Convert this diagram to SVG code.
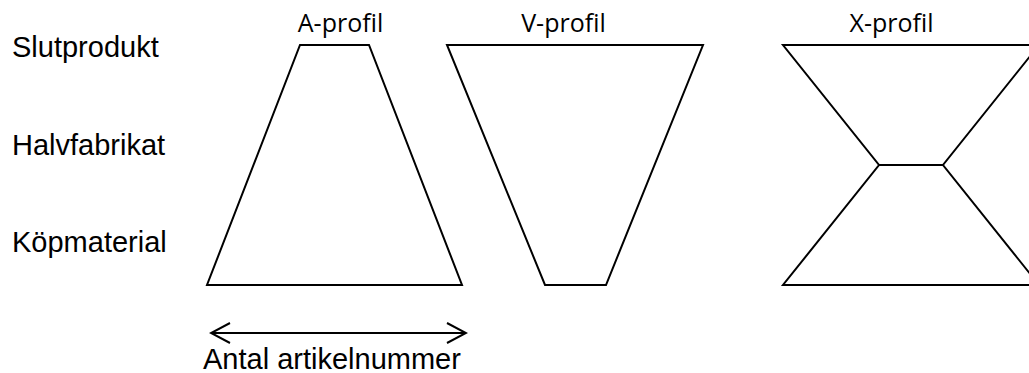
<svg xmlns="http://www.w3.org/2000/svg" width="1029" height="373" viewBox="0 0 1029 373">
  <style>
    .shape { fill: none; stroke: #000; stroke-width: 2; stroke-linejoin: miter; }
    .level { font-family: "Liberation Sans", Arial, sans-serif; font-size: 29px; fill: #000; }
    .title { font-family: "Open Sans", "Noto Sans", sans-serif; font-size: 25px; fill: #000; text-anchor: middle; }
    .axis { fill: none; stroke: #000; stroke-width: 2; }
  </style>
  <defs>
    <marker id="chevron" viewBox="0 0 22 22" refX="20" refY="11" markerWidth="22" markerHeight="22" markerUnits="userSpaceOnUse" orient="auto-start-reverse">
      <path d="M 1 1 L 20 11 L 1 21" fill="none" stroke="#000" stroke-width="2"/>
    </marker>
  </defs>
  <rect width="1029" height="373" fill="#fff"/>

  <!-- level labels -->
  <g id="levels">
    <text class="level" x="12" y="57">Slutprodukt</text>
    <text class="level" x="12" y="155">Halvfabrikat</text>
    <text class="level" x="12" y="252">Köpmaterial</text>
  </g>

  <!-- A profile -->
  <g id="a-profil">
    <text class="title" x="340.5" y="32">A-profil</text>
    <polygon class="shape" points="300,45 369,45 462,285 207,285"/>
  </g>

  <!-- V profile -->
  <g id="v-profil">
    <text class="title" x="563.5" y="32">V-profil</text>
    <polygon class="shape" points="447,45 703,45 606,285 545,285"/>
  </g>

  <!-- X profile: two trapezoids meeting at the waist (right edge runs past the canvas) -->
  <g id="x-profil">
    <text class="title" x="891.5" y="32">X-profil</text>
    <polygon class="shape" points="783,45 1039,45 943,165 1039,285 783,285 879,165"/>
    <line class="shape" x1="879" y1="165" x2="943" y2="165"/>
  </g>

  <!-- article count axis -->
  <g id="connectors">
    <line class="axis" x1="211" y1="333" x2="466" y2="333" marker-start="url(#chevron)" marker-end="url(#chevron)"/>
  </g>
  <g id="axis-label">
    <text class="level" x="203" y="369">Antal artikelnummer</text>
  </g>
</svg>
